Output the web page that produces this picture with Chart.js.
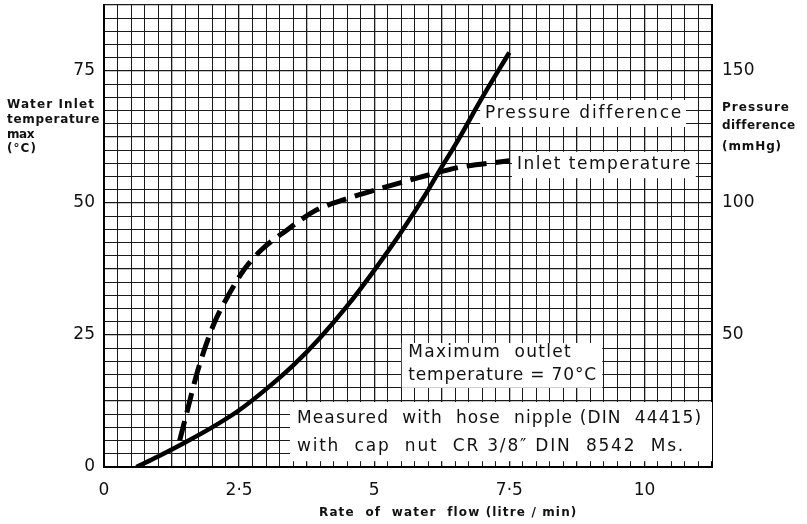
<!DOCTYPE html>
<html>
<head>
<meta charset="utf-8">
<script src="https://cdn.jsdelivr.net/npm/chart.js@4/dist/chart.umd.min.js"></script>
<style>
  html, body { margin: 0; padding: 0; background: #fff; }
  #wrap { width: 807px; height: 524px; }
</style>
</head>
<body>
<div id="wrap"><canvas id="flowChart" width="807" height="524"></canvas></div>
<script>
// pressure difference curve (right axis, mmHg)
const flowPressure = [0.6, 1.0, 1.5, 2.0, 2.5, 3.0, 3.5, 4.0, 4.5, 5.0, 5.5, 6.0, 6.2, 6.5, 7.0, 7.5];
const pressureMmHg = [0, 4, 9.3, 15, 21.5, 29.5, 38.5, 49, 61, 74.5, 89, 105, 112, 122, 140, 157];

// inlet temperature curve (left axis, °C)
const flowInlet = [1.4, 1.55, 1.7, 1.85, 2.05, 2.3, 2.6, 2.9, 3.4, 3.9, 4.4, 5.2, 6.0, 6.6, 7.5];
const inletTempC = [5, 11, 17, 22, 27.5, 32.5, 37.5, 41, 45, 48.5, 50.5, 53, 55.3, 56.8, 58];

// labelled ticks
const xLabels = [0, 2.5, 5, 7.5, 10];
const tempLabels = [0, 25, 50, 75];
const pressureLabels = [50, 100, 150];

const FONT = '"DejaVu Sans", sans-serif';

function toPoints(xs, ys) {
  return xs.map((x, i) => ({ x: x, y: ys[i] }));
}

function isMultiple(v, step) {
  const q = v / step;
  return Math.abs(q - Math.round(q)) < 1e-6;
}

// text boxes on the grid, in data units (x: flow, y: left axis)
const notes = [
  { box: [6.96, 69.5, 10.77, 64.4], lines: [['Pressure difference', 7.05, 10.71, 67.0]] },
  { box: [7.55, 59.7, 10.95, 54.7], lines: [['Inlet temperature', 7.64, 10.88, 57.2]] },
  { box: [5.51, 23.5, 9.22, 15.0], lines: [
      ['Maximum  outlet', 5.63, 8.66, 21.6],
      ['temperature = 70°C', 5.63, 9.12, 17.4]] },
  { box: [3.44, 12.3, 11.25, 1.1], lines: [
      ['Measured  with  hose  nipple (DIN  44415)', 3.57, 11.07, 9.1],
      ['with  cap  nut  CR 3/8″ DIN  8542  Ms.', 3.57, 10.75, 3.8]] }
];

// draws text stretched to a given width
function fitText(ctx, text, x, y, width) {
  ctx.letterSpacing = '0px';
  const w = ctx.measureText(text).width;
  ctx.letterSpacing = ((width - w) / text.length) + 'px';
  ctx.fillText(text, x, y);
  ctx.letterSpacing = '0px';
}

const notesPlugin = {
  id: 'notes',
  beforeDatasetsDraw(chart) {
    const ctx = chart.ctx;
    const sx = chart.scales.x, sy = chart.scales.y;
    ctx.save();
    notes.forEach(n => {
      const x0 = sx.getPixelForValue(n.box[0]);
      const y0 = sy.getPixelForValue(n.box[1]);
      const x1 = sx.getPixelForValue(n.box[2]);
      const y1 = sy.getPixelForValue(n.box[3]);
      ctx.fillStyle = '#fff';
      ctx.fillRect(x0, y0, x1 - x0, y1 - y0);
      ctx.fillStyle = '#111';
      ctx.font = '17px ' + FONT;
      ctx.textBaseline = 'middle';
      ctx.textAlign = 'left';
      n.lines.forEach(l => {
        const lx = sx.getPixelForValue(l[1]);
        const rx = sx.getPixelForValue(l[2]);
        fitText(ctx, l[0], lx, sy.getPixelForValue(l[3]), rx - lx);
      });
    });
    ctx.restore();
  },
  afterDraw(chart) {
    const ctx = chart.ctx;
    ctx.save();
    ctx.fillStyle = '#111';
    ctx.textBaseline = 'middle';
    ctx.textAlign = 'left';
    ctx.font = 'bold 12px ' + FONT;
    // left axis title
    fitText(ctx, 'Water Inlet', 7, 105, 88);
    fitText(ctx, 'temperature', 7, 120, 93);
    fitText(ctx, 'max', 7, 135, 27);
    fitText(ctx, '(°C)', 7, 149, 30);
    // right axis title
    fitText(ctx, 'Pressure', 722, 108, 68);
    fitText(ctx, 'difference', 722, 126, 73);
    fitText(ctx, '(mmHg)', 722, 147, 60);
    // x axis title
    fitText(ctx, 'Rate  of  water  flow (litre / min)', 319, 513, 258);
    ctx.restore();
  }
};

const gridColor = '#1a1a1a';

new Chart(document.getElementById('flowChart'), {
  type: 'line',
  data: {
    datasets: [
      {
        label: 'Pressure difference',
        data: toPoints(flowPressure, pressureMmHg),
        yAxisID: 'y2',
        borderColor: '#000',
        borderWidth: 4.5,
        pointRadius: 0,
        cubicInterpolationMode: 'monotone',
        fill: false
      },
      {
        label: 'Inlet temperature',
        data: toPoints(flowInlet, inletTempC),
        yAxisID: 'y',
        borderColor: '#000',
        borderWidth: 5,
        borderDash: [20, 9],
        pointRadius: 0,
        cubicInterpolationMode: 'monotone',
        fill: false
      }
    ]
  },
  options: {
    responsive: false,
    animation: false,
    layout: { padding: { top: 5 } },
    plugins: {
      legend: { display: false },
      tooltip: { enabled: false }
    },
    scales: {
      x: {
        type: 'linear',
        min: 0,
        max: 11.25,
        afterFit(s) { s.height = 57; s.paddingLeft = 0; s.paddingRight = 0; },
        border: { display: true, color: '#000', width: 2 },
        grid: {
          color: gridColor,
          drawTicks: false,
          lineWidth: c => (c.tick && isMultiple(c.tick.value, 1.25)) ? 1.3 : 1
        },
        ticks: {
          stepSize: 0.25,
          autoSkip: false,
          maxRotation: 0,
          padding: 13,
          color: '#111',
          font: { family: FONT, size: 17 },
          callback: v => xLabels.some(t => Math.abs(t - v) < 1e-6) ? String(v).replace('.', '·') : ''
        }
      },
      y: {
        position: 'left',
        min: 0,
        max: 87.5,
        afterFit(s) { s.width = 104; s.paddingTop = 0; s.paddingBottom = 0; },
        border: { display: true, color: '#000', width: 2 },
        grid: {
          color: gridColor,
          drawTicks: false,
          lineWidth: c => (c.tick && isMultiple(c.tick.value, 12.5)) ? 1.3 : 1
        },
        ticks: {
          stepSize: 2.5,
          autoSkip: false,
          padding: 9,
          color: '#111',
          font: { family: FONT, size: 17 },
          callback: v => tempLabels.some(t => Math.abs(t - v) < 1e-6) ? String(v) : ''
        }
      },
      y2: {
        position: 'right',
        min: 0,
        max: 175,
        afterFit(s) { s.width = 95; s.paddingTop = 0; s.paddingBottom = 0; },
        border: { display: true, color: '#000', width: 2 },
        grid: { display: false, drawTicks: false },
        ticks: {
          stepSize: 5,
          autoSkip: false,
          padding: 10,
          color: '#111',
          font: { family: FONT, size: 17 },
          callback: v => pressureLabels.some(t => Math.abs(t - v) < 1e-6) ? String(v) : ''
        }
      }
    }
  },
  plugins: [notesPlugin]
});
</script>
</body>
</html>
